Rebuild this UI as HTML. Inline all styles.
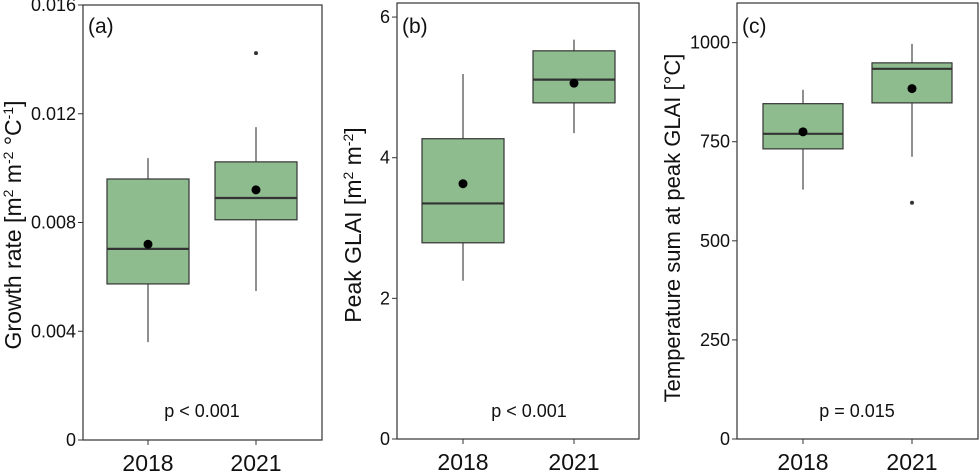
<!DOCTYPE html>
<html><head><meta charset="utf-8"><style>
body{margin:0;background:#fff;}
svg{display:block;font-family:"Liberation Sans",Arial,sans-serif;}
</style></head><body>
<svg id="chart" width="980" height="471" viewBox="0 0 980 471" xmlns="http://www.w3.org/2000/svg"></svg>
<script>
const categories = ["2018","2021"];
// panel a: growth rate
const aLow=[0.0036,0.00548], aQ1=[0.00574,0.0081], aMed=[0.00703,0.0089], aQ3=[0.0096,0.01023], aHigh=[0.01037,0.01151], aMean=[0.0072,0.0092];
const aOut=[[],[0.01423]];
const aTicks=[0,0.004,0.008,0.012,0.016], aTickLabels=["0","0.004","0.008","0.012","0.016"];
// panel b: peak GLAI
const bLow=[2.25,4.35], bQ1=[2.79,4.78], bMed=[3.35,5.11], bQ3=[4.27,5.52], bHigh=[5.19,5.68], bMean=[3.63,5.06];
const bOut=[[],[]];
const bTicks=[0,2,4,6], bTickLabels=["0","2","4","6"];
// panel c: temperature sum
const cLow=[629,712], cQ1=[732,848], cMed=[770,934], cQ3=[846,949], cHigh=[881,997], cMean=[775,884];
const cOut=[[],[596]];
const cTicks=[0,250,500,750,1000], cTickLabels=["0","250","500","750","1000"];

const NS="http://www.w3.org/2000/svg";
const svg=document.getElementById('chart');
function mk(tag,attrs,parent,text){const e=document.createElementNS(NS,tag);for(const k in attrs)e.setAttribute(k,attrs[k]);if(text!==undefined)e.textContent=text;(parent||svg).appendChild(e);return e;}

function panel(o){
  const g=mk('g',{});
  
  
  const y=v=>o.bottom-(v-o.min)/(o.max-o.min)*(o.bottom-o.top);
  const xs=[o.x0,o.x1];
  const hw=o.hw;
  for(let i=0;i<categories.length;i++){
    const x=xs[i];
    const w1=mk('line',{x1:x,x2:x,y1:y(o.high[i]),y2:y(o.q3[i]),stroke:'#222','stroke-width':1},g);
    
    
    const w2=mk('line',{x1:x,x2:x,y1:y(o.q1[i]),y2:y(o.low[i]),stroke:'#222','stroke-width':1},g);
    
    
    const b=mk('rect',{x:x-hw,y:y(o.q3[i]),width:2*hw,height:y(o.q1[i])-y(o.q3[i]),fill:'#8fbc8f',stroke:'#333','stroke-width':1.2},g);
    
    
    const m=mk('line',{x1:x-hw,x2:x+hw,y1:y(o.med[i]),y2:y(o.med[i]),stroke:'#333','stroke-width':2.2},g);
    
    
    const mn=mk('circle',{cx:x,cy:y(o.mean[i]),r:4.5,fill:'#000'},g);
    
    
    o.out[i].forEach(v=>{
      const c=mk('circle',{cx:x,cy:y(v),r:2,fill:'#333'},g);
      
      
    });
    const t=mk('line',{x1:x,x2:x,y1:o.bottom,y2:o.bottom+5,stroke:'#333'},g);
    
    
    const tl=mk('text',{x:x,y:o.bottom+31,'font-size':23,'text-anchor':'middle',fill:'#111'},g,categories[i]);
    
    
  }
  o.ticks.forEach((v,i)=>{
    const t=mk('line',{x1:o.left-5,x2:o.left,y1:y(v),y2:y(v),stroke:'#333'},g);
    
    
    const tl=mk('text',{x:o.left-7,y:y(v)+6,'font-size':18,'text-anchor':'end',fill:'#111'},g,o.labels[i]);
    
    
  });
  const fr=mk('rect',{x:o.left,y:o.top,width:o.right-o.left,height:o.bottom-o.top,fill:'none',stroke:'#333','stroke-width':1.2},g);
  
  
  const pl=mk('text',{x:o.left+5,y:33,'font-size':21,fill:'#111'},g,'('+o.id+')');
  
  
  const pv=mk('text',{x:o.pX,y:417,'font-size':18,'text-anchor':'middle',fill:'#111'},g,o.p);
  
  
  const yl=mk('text',{transform:'translate('+o.ylX+','+o.ylY+') rotate(-90)','font-size':o.yfs,'text-anchor':'middle',fill:'#111'},g);
  yl.innerHTML=o.ylab;
  
  
}

panel({id:'a',left:83,right:322,top:5,bottom:440,min:0,max:0.016,x0:148,x1:256,hw:41,
  low:aLow,q1:aQ1,med:aMed,q3:aQ3,high:aHigh,mean:aMean,out:aOut,ticks:aTicks,labels:aTickLabels,
  p:'p < 0.001',pX:202,ylX:21,ylY:225,yfs:23,ylab:'Growth rate [m<tspan dy="-8" font-size="14">2</tspan><tspan dy="8"> m</tspan><tspan dy="-8" font-size="14">-2</tspan><tspan dy="8"> °C</tspan><tspan dy="-8" font-size="14">-1</tspan><tspan dy="8">]</tspan>'});
panel({id:'b',left:397,right:639,top:3,bottom:439,min:0,max:6.2,x0:463,x1:574,hw:41,
  low:bLow,q1:bQ1,med:bMed,q3:bQ3,high:bHigh,mean:bMean,out:bOut,ticks:bTicks,labels:bTickLabels,
  p:'p < 0.001',pX:529,ylX:361,ylY:225,yfs:23,ylab:'Peak GLAI [m<tspan dy="-8" font-size="14">2</tspan><tspan dy="8"> m</tspan><tspan dy="-8" font-size="14">-2</tspan><tspan dy="8">]</tspan>'});
panel({id:'c',left:737,right:978,top:3,bottom:439,min:0,max:1100,x0:803,x1:912,hw:40,
  low:cLow,q1:cQ1,med:cMed,q3:cQ3,high:cHigh,mean:cMean,out:cOut,ticks:cTicks,labels:cTickLabels,
  p:'p = 0.015',pX:857,ylX:680,ylY:228,yfs:22,ylab:'Temperature sum at peak GLAI [°C]'});
</script>
</body></html>
